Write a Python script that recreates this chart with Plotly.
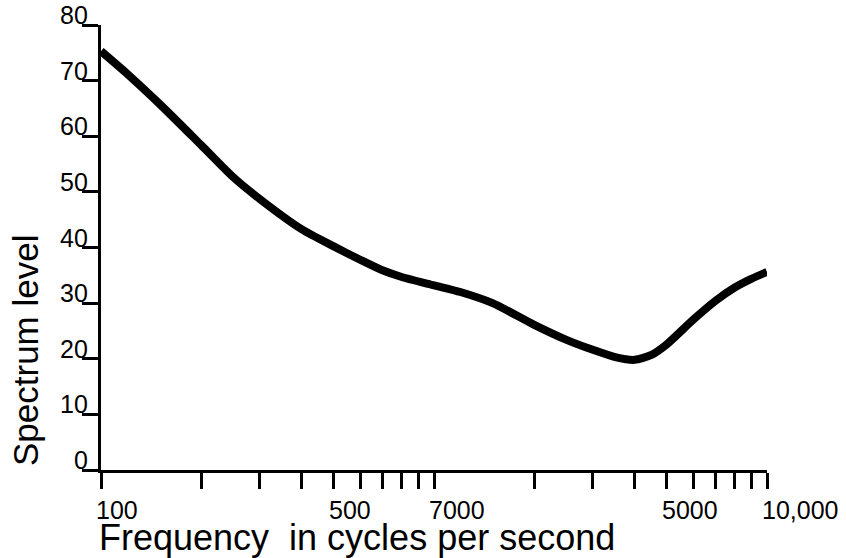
import numpy as np
import plotly.graph_objects as go

# Spectrum level versus frequency (log frequency axis)
freq_hz = [100, 120, 150, 200, 250, 300, 400, 500, 600, 700, 800, 1000,
           1200, 1500, 2000, 2500, 3000, 3500, 4000, 4500, 5000, 6000,
           7000, 8000, 9000, 10000]
spectrum_level = [75.3, 71.2, 65.8, 58.4, 52.6, 48.7, 43.3, 40.2, 37.8, 35.9,
                  34.7, 33.2, 32.0, 30.0, 26.1, 23.4, 21.6, 20.3, 19.8, 20.7,
                  22.6, 27.0, 30.4, 32.8, 34.4, 35.6]

# Axis ticks and labels
x_tick_vals = [100, 200, 300, 400, 500, 600, 700, 800, 900, 1000,
               2000, 3000, 4000, 5000, 6000, 7000, 8000, 9000, 10000]
x_label_vals = [100, 500, 1000, 5000, 10000]
x_label_text = ["100", "500", "7000", "5000", "10,000"]
y_tick_vals = [0, 10, 20, 30, 40, 50, 60, 70, 80]
y_label_text = ["0", "10", "20", "30", "40", "50", "60", "70", "80"]

FONT = "Liberation Sans, Arial, Helvetica, sans-serif"

fig = go.Figure()
fig.add_trace(go.Scatter(
    x=freq_hz, y=spectrum_level, mode="lines",
    line=dict(color="black", width=8, shape="spline", smoothing=0.7),
    hoverinfo="skip", showlegend=False,
))

annotations = []
for v, t in zip(x_label_vals, x_label_text):
    annotations.append(dict(
        x=np.log10(v), xref="x", y=0, yref="paper", text=t,
        showarrow=False, xanchor="left", yanchor="top",
        xshift=-6, yshift=-25, borderpad=0,
        font=dict(family=FONT, size=25, color="black"),
    ))
for v, t in zip(y_tick_vals, y_label_text):
    annotations.append(dict(
        x=0, xref="paper", y=v, yref="y", text=t,
        showarrow=False, xanchor="right", yanchor="bottom",
        xshift=-11, yshift=-6,
        font=dict(family=FONT, size=25, color="black"),
    ))
annotations.append(dict(
    x=-0.005, xref="paper", y=0, yref="paper",
    text="Frequency  in cycles per second",
    showarrow=False, xanchor="left", yanchor="top", yshift=-46, borderpad=0,
    font=dict(family=FONT, size=36, color="black"),
))
annotations.append(dict(
    x=0, xref="paper", xshift=-76, y=(470 - 351) / 445, yref="paper",
    yanchor="middle", xanchor="center",
    text="Spectrum level", textangle=-90, showarrow=False,
    font=dict(family=FONT, size=35, color="black"),
))

fig.update_layout(
    width=846, height=558,
    margin=dict(l=101, r=79, t=25, b=88),
    paper_bgcolor="white", plot_bgcolor="white",
    annotations=annotations,
    xaxis=dict(
        type="log", range=[2, 4], tickmode="array", tickvals=x_tick_vals,
        showticklabels=False, ticks="outside", ticklen=16, tickwidth=3,
        tickcolor="black", showline=True, linewidth=3, linecolor="black",
        showgrid=False, zeroline=False,
    ),
    yaxis=dict(
        range=[0, 80], tickmode="array", tickvals=y_tick_vals,
        showticklabels=False, ticks="outside", ticklen=16, tickwidth=3,
        tickcolor="black", showline=True, linewidth=3, linecolor="black",
        showgrid=False, zeroline=False,
    ),
)

fig.write_html("out.html")
